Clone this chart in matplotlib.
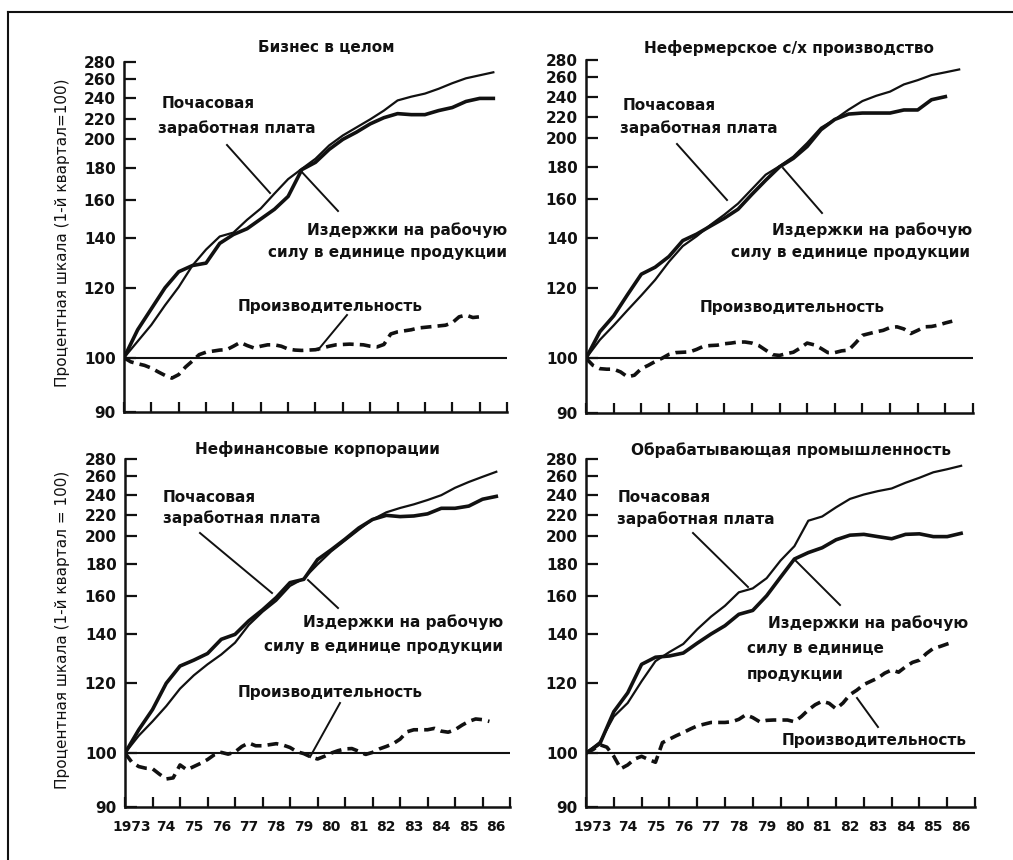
import numpy as np
import matplotlib.pyplot as plt
from matplotlib.lines import Line2D
from matplotlib.ticker import NullLocator

# index values, 1st quarter 1973 = 100
# wages / unit labour costs: half-year steps from 1973.0
# productivity: quarter steps from 1973.0
titles = ['Бизнес в целом', 'Нефермерское с/х производство',
          'Нефинансовые корпорации', 'Обрабатывающая промышленность']

wages1 = [100, 104.7, 109.4, 115, 120.3, 129, 135.5, 141, 143, 149.6, 155.4, 163.8, 173, 179.5,
          186.5, 195.8, 203.8, 211.6, 219.4, 228, 238, 241.8, 245, 250, 255.8, 261, 264.5, 268]
ulc1 = [100, 108, 114, 120, 126.5, 129, 130, 138, 142, 145, 150, 155, 162, 179,
        184, 193, 200, 207, 215, 221, 225, 224, 224, 228, 231, 237, 240, 240]
prod1 = [100, 99.25, 98.9, 98.6, 98.1, 97.4, 96.75, 96.25, 96.9, 98.3,
         99.4, 100.9, 101.6, 101.9, 102.2, 102.3, 103.3, 104.4, 103.5, 102.8,
         103.3, 103.7, 103.7, 103.3, 102.5, 102.2, 102.1, 102.2, 102.3, 102.8,
         103.3, 103.7, 103.8, 103.9, 103.8, 103.7, 103.3, 103.1, 103.8, 106.8,
         107.4, 107.7, 108, 108.5, 108.7, 108.9, 109.1, 109.3, 110, 111.7,
         112.2, 111.5, 111.7]

wages2 = [100, 105.2, 109.3, 113.6, 117.8, 123.1, 130.4, 136.7, 140.8, 146.6, 151.8, 157.5, 166, 175.1,
          180.5, 187.1, 196.5, 209.8, 217.8, 227.3, 235.7, 240.9, 245.2, 252.6, 257, 262.5, 265.7, 269]
ulc2 = [100, 107.5, 112, 118, 125.4, 128.2, 132.5, 138.9, 141.9, 146, 150, 154.6, 162.7, 171.6,
        180, 185.9, 194.1, 207.9, 217.8, 223, 224, 224, 224, 227, 227, 237, 240]
prod2 = [100, 98.7, 98.1, 98, 98, 97.5, 96.6, 96.9, 98.1, 98.7,
         99.4, 100, 101.1, 101.6, 101.7, 101.8, 102.5, 103.4, 103.6, 103.7,
         104.1, 104.3, 104.6, 104.6, 104.3, 103.6, 102.3, 101, 100.8, 101.3,
         101.7, 102.9, 104.3, 103.8, 102.8, 101.6, 101.6, 102.1, 102.3, 104.3,
         106.5, 107, 107.5, 107.9, 108.7, 108.9, 108.3, 107, 107.9, 108.9,
         109, 109.4, 110, 110.5]

wages3 = [100, 105, 109.1, 113.5, 118.5, 123.3, 127.8, 131.8, 136.6, 144.9, 151.7, 157.4, 166.3, 171,
          180, 189.2, 196.8, 206, 216, 223, 227.3, 230.9, 235.2, 240, 247.7, 253.8, 259.2, 265]
ulc3 = [100, 106.7, 112.5, 120.1, 127.1, 129.5, 132.2, 138, 140, 147, 152.7, 159.1, 168.4, 170.5,
        183.4, 190.3, 197.7, 207.7, 216, 220, 218.8, 219.4, 221.5, 227, 227, 229.2, 236, 238.8]
prod3 = [100, 98.3, 97.5, 97.2, 97.1, 96.1, 95.2, 95.4, 97.8, 96.9,
         97.5, 98.1, 98.8, 99.7, 100.2, 99.8, 100.3, 101.9, 102.9, 102.1,
         102.1, 102.4, 102.7, 102.3, 101.6, 100.4, 99.9, 99.3, 98.9, 99.4,
         100, 100.7, 101.2, 101.3, 100.5, 99.75, 100.2, 101.2, 101.9, 102.7,
         104, 106.1, 106.7, 106.7, 106.7, 107.1, 106.3, 106, 106.7, 108,
         109.1, 109.8, 109.6, 109.1]

wages4 = [100, 103.2, 110.5, 114.4, 120.9, 129.1, 132.8, 136.1, 142.6, 149.2, 154.8, 162.2, 164.7, 171.2,
          182.7, 192.8, 214.8, 218.9, 228, 236.3, 240.7, 244.2, 247, 253, 258.2, 264.4, 268, 272]
ulc4 = [100, 102.7, 111.9, 117.3, 127.8, 130.7, 131.2, 132.4, 136.4, 140.2, 144.5, 150.4, 152.4, 160,
        171.8, 183.8, 188.3, 191.7, 197.3, 200.7, 201.5, 199.5, 198, 201.5, 202, 199.5, 199.5, 202.5]
prod4 = [100, 101, 102.4, 101.7, 99.4, 97.1, 97.8, 98.9, 99.4, 98.8,
         98.3, 103, 104, 105, 105.9, 106.9, 107.8, 108.3, 108.8, 108.8,
         108.8, 109, 109.7, 111, 110.2, 109, 109.4, 109.5, 109.5, 109.5,
         109, 110.5, 112.4, 113.9, 114.9, 114.3, 112.7, 114.4, 116.8, 118.1,
         119.7, 120.9, 122.2, 124.2, 125.5, 124.6, 126.8, 128.6, 129.5, 132.2,
         134.3, 135.1, 136.1, 137]

year_labels = ['1973', '74', '75', '76', '77', '78', '79', '80', '81', '82', '83', '84', '85', '86']
y_ticks = [90, 100, 120, 140, 160, 180, 200, 220, 240, 260, 280]

# the printed "percent scale" is squeezed towards the top; map tick values to heights
y_pos = [0, 0.155, 0.355, 0.496, 0.607, 0.697, 0.779, 0.838, 0.896, 0.951, 1.0]


def fwd(v):
    return np.interp(v, y_ticks, y_pos)


def inv(p):
    return np.interp(p, y_pos, y_ticks)


ink = '#111111'
plt.rcParams['font.family'] = 'DejaVu Sans'
plt.rcParams['font.weight'] = 'bold'

W, H = 1013, 860
fig = plt.figure(figsize=(W / 100, H / 100), dpi=100)

boxes = [[0.1224, 0.5209, 0.3781, 0.4070],
         [0.5785, 0.5198, 0.3820, 0.4105],
         [0.1234, 0.0616, 0.3801, 0.4047],
         [0.5785, 0.0616, 0.3840, 0.4047]]
series = [(wages1, ulc1, prod1), (wages2, ulc2, prod2),
          (wages3, ulc3, prod3), (wages4, ulc4, prod4)]

# year labels sit mid-year; the wide "1973" is pulled towards the axis
label_x = [1973.25] + [y + 0.5 for y in range(1974, 1987)]

for i, (box, (w, u, p)) in enumerate(zip(boxes, series)):
    ax = fig.add_axes(box)
    ax.set_yscale('function', functions=(fwd, inv))
    ax.set_ylim(90, 280)
    ax.set_xlim(1973, 1987)

    ax.axhline(100, color=ink, lw=1.5)
    ax.plot(1973 + 0.5 * np.arange(len(w)), w, color=ink, lw=1.6)
    ax.plot(1973 + 0.5 * np.arange(len(u)), u, color=ink, lw=2.6)
    ax.plot(1973 + 0.25 * np.arange(len(p)), p, color=ink, lw=2.6,
            dashes=(3, 1.7), dash_capstyle='butt')

    for s in ['top', 'right']:
        ax.spines[s].set_visible(False)
    for s in ['left', 'bottom']:
        ax.spines[s].set_linewidth(1.8)
        ax.spines[s].set_color(ink)

    ax.set_yticks(y_ticks)
    ax.set_yticklabels([str(v) for v in y_ticks])
    ax.yaxis.set_minor_locator(NullLocator())
    ax.tick_params(axis='y', direction='in', length=8.5, width=1.6, pad=6,
                   labelsize=11, colors=ink)

    ax.set_xticks(range(1973, 1988))
    ax.set_xticklabels([])
    ax.tick_params(axis='x', which='major', direction='in', length=7, width=1.6, colors=ink)
    if i >= 2:
        ax.set_xticks(label_x, minor=True)
        ax.set_xticklabels(year_labels, minor=True)
        ax.tick_params(axis='x', which='minor', length=0, pad=9, labelsize=10, colors=ink)
    else:
        ax.xaxis.set_minor_locator(NullLocator())


def put(x, y, s, ha='left', **kw):
    fig.text(x / W, 1 - y / H, s, ha=ha, va='center', fontsize=11, color=ink, **kw)


def pointer(x0, y0, x1, y1):
    fig.add_artist(Line2D([x0 / W, x1 / W], [1 - y0 / H, 1 - y1 / H], color=ink, lw=1.4))


# panel titles
put(326, 48, titles[0], ha='center')
put(789, 48, titles[1], ha='center')
put(317, 449, titles[2], ha='center')
put(791, 450, titles[3], ha='center')

# business sector
put(162, 103, 'Почасовая')
put(158, 128, 'заработная плата')
pointer(227, 145, 270, 193)
put(507, 230, 'Издержки на рабочую', ha='right')
put(507, 253, 'силу в единице продукции', ha='right')
pointer(300, 170, 338, 211)
put(238, 307, 'Производительность')
pointer(347, 315, 318, 350)

# nonfarm
put(623, 106, 'Почасовая')
put(620, 128, 'заработная плата')
pointer(677, 144, 727, 200)
put(972, 230, 'Издержки на рабочую', ha='right')
put(970, 252, 'силу в единице продукции', ha='right')
pointer(783, 168, 822, 213)
put(700, 308, 'Производительность')

# nonfinancial corporations
put(163, 498, 'Почасовая')
put(163, 518, 'заработная плата')
pointer(200, 533, 272, 593)
put(503, 622, 'Издержки на рабочую', ha='right')
put(503, 646, 'силу в единице продукции', ha='right')
pointer(308, 580, 338, 608)
put(238, 692, 'Производительность')
pointer(340, 703, 310, 757)

# manufacturing
put(618, 498, 'Почасовая')
put(617, 519, 'заработная плата')
pointer(693, 533, 748, 587)
put(968, 623, 'Издержки на рабочую', ha='right')
put(747, 649, 'силу в единице')
put(747, 674, 'продукции')
pointer(795, 560, 840, 605)
put(967, 740, 'Производительность', ha='right')
pointer(878, 727, 857, 698)

# y axis captions
put(63, 233, 'Процентная шкала (1-й квартал=100)', ha='center', rotation=90, fontweight='normal')
put(63, 630, 'Процентная шкала (1-й квартал = 100)', ha='center', rotation=90, fontweight='normal')

# page frame (top and left edges only)
fig.add_artist(Line2D([8 / W, 1], [1 - 12 / H, 1 - 12 / H], color=ink, lw=1.5))
fig.add_artist(Line2D([8 / W, 8 / W], [1 - 12 / H, 0], color=ink, lw=1.5))

fig.savefig('out.png', dpi=100, facecolor='white')
